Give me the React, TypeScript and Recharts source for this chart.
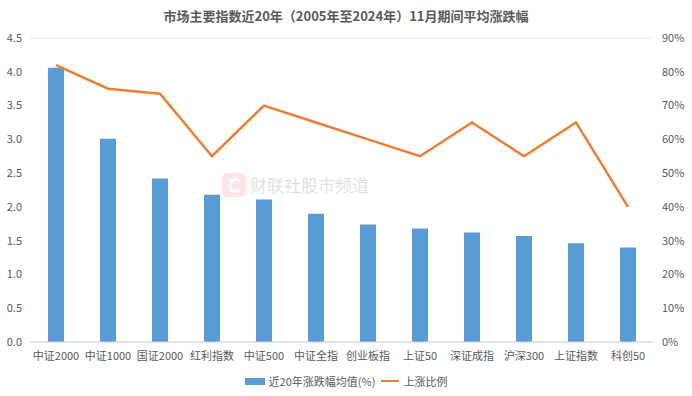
import React from "react";
import {
  ComposedChart,
  Bar,
  Line,
  XAxis,
  YAxis,
  CartesianGrid,
  Legend,
} from "recharts";

const categories = [
  "中证2000",
  "中证1000",
  "国证2000",
  "红利指数",
  "中证500",
  "中证全指",
  "创业板指",
  "上证50",
  "深证成指",
  "沪深300",
  "上证指数",
  "科创50",
];
const avgChange = [4.06, 3.01, 2.42, 2.18, 2.11, 1.9, 1.74, 1.68, 1.62, 1.57, 1.46, 1.4];
const upRatio = [82, 75, 73.5, 55, 70, 65, 60, 55, 65, 55, 65, 40];
const leftTicks = [0, 0.5, 1, 1.5, 2, 2.5, 3, 3.5, 4, 4.5];
const rightTicks = [0, 10, 20, 30, 40, 50, 60, 70, 80, 90];

const BAR_COLOR = "#5B9BD5";
const LINE_COLOR = "#ED7D31";
const TEXT_COLOR = "#595959";
const FONT = '"Noto Sans CJK SC", "Noto Sans", sans-serif';

const data = categories.map((name, i) => ({
  name,
  avg: avgChange[i],
  up: upRatio[i],
}));

function LegendContent() {
  return (
    <div
      style={{
        display: "flex",
        justifyContent: "center",
        alignItems: "center",
        fontSize: 11,
        color: TEXT_COLOR,
        fontFamily: FONT,
        paddingTop: 9,
      }}
    >
      <span
        style={{
          display: "inline-block",
          width: 20,
          height: 7,
          background: BAR_COLOR,
          marginRight: 4,
        }}
      />
      <span>近20年涨跌幅均值(%)</span>
      <span
        style={{
          display: "inline-block",
          width: 18,
          height: 2.5,
          background: LINE_COLOR,
          margin: "0 4px 0 6px",
        }}
      />
      <span>上涨比例</span>
    </div>
  );
}

export default function App() {
  return (
    <div
      style={{
        position: "absolute",
        left: 0,
        top: 0,
        width: 692,
        height: 396,
        background: "#fff",
        fontFamily: FONT,
      }}
    >
      <div
        style={{
          position: "absolute",
          top: 6,
          left: 0,
          width: 692,
          textAlign: "center",
          fontSize: 13,
          fontWeight: 700,
          color: TEXT_COLOR,
        }}
      >
        市场主要指数近20年（2005年至2024年）11月期间平均涨跌幅
      </div>
      <div
        style={{
          position: "absolute",
          left: 222,
          top: 172,
          display: "flex",
          alignItems: "center",
          opacity: 0.12,
          pointerEvents: "none",
        }}
      >
        <div
          style={{
            width: 24,
            height: 24,
            borderRadius: 5,
            background: "#e8333a",
            color: "#fff",
            fontSize: 20,
            fontWeight: 700,
            lineHeight: "24px",
            textAlign: "center",
          }}
        >
          C
        </div>
        <span style={{ fontSize: 17, color: "#000", marginLeft: 4 }}>
          财联社股市频道
        </span>
      </div>
      <ComposedChart
        width={692}
        height={396}
        data={data}
        margin={{ top: 38, right: 0, bottom: 2, left: 0 }}
        style={{ position: "absolute", left: 0, top: 0 }}
      >
        <CartesianGrid vertical={false} stroke="#e6e6e6" />
        <XAxis
          dataKey="name"
          tickLine={false}
          axisLine={{ stroke: "#d9d9d9" }}
          tick={{ fontSize: 11, fill: TEXT_COLOR, dy: 2 }}
          interval={0}
          height={22}
        />
        <YAxis
          yAxisId="left"
          domain={[0, 4.5]}
          ticks={leftTicks}
          tickFormatter={(v: number) => v.toFixed(1)}
          axisLine={false}
          tickLine={false}
          width={30}
          tick={{ fontSize: 11, fill: TEXT_COLOR }}
        />
        <YAxis
          yAxisId="right"
          orientation="right"
          domain={[0, 90]}
          ticks={rightTicks}
          tickFormatter={(v: number) => `${v}%`}
          axisLine={false}
          tickLine={false}
          width={38}
          tick={{ fontSize: 11, fill: TEXT_COLOR }}
        />
        <Legend
          verticalAlign="bottom"
          height={30}
          content={<LegendContent />}
        />
        <Bar
          yAxisId="left"
          dataKey="avg"
          fill={BAR_COLOR}
          barSize={16}
          isAnimationActive={false}
        />
        <Line
          yAxisId="right"
          dataKey="up"
          stroke={LINE_COLOR}
          strokeWidth={2.5}
          dot={false}
          type="linear"
          isAnimationActive={false}
        />
      </ComposedChart>
    </div>
  );
}
